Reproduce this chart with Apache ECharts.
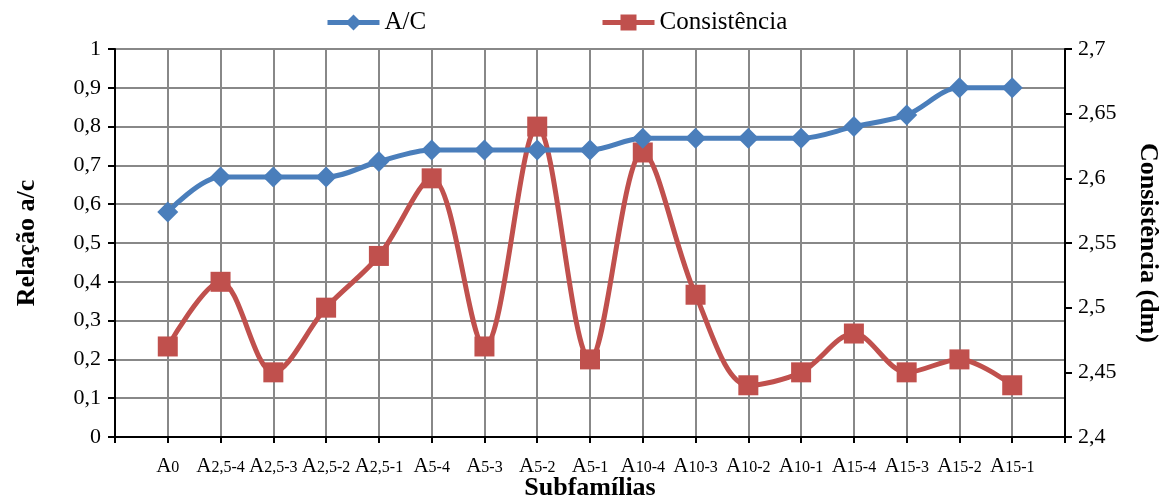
<!DOCTYPE html>
<html>
<head>
<meta charset="utf-8">
<script src="https://cdn.jsdelivr.net/npm/echarts@6/dist/echarts.min.js"></script>
<style>html,body{margin:0;padding:0;background:#fff}#c{width:1160px;height:499px}</style>
</head>
<body>
<div id="c"></div>
<script>
const categories = ['0','2,5-4','2,5-3','2,5-2','2,5-1','5-4','5-3','5-2','5-1','10-4','10-3','10-2','10-1','15-4','15-3','15-2','15-1'];
const acValues = [0.58,0.67,0.67,0.67,0.71,0.74,0.74,0.74,0.74,0.77,0.77,0.77,0.77,0.80,0.83,0.90,0.90];
const consValues = [2.47,2.52,2.45,2.50,2.54,2.60,2.47,2.64,2.46,2.62,2.51,2.44,2.45,2.48,2.45,2.46,2.44];
const leftTicks = [0,0.1,0.2,0.3,0.4,0.5,0.6,0.7,0.8,0.9,1];
const rightTicks = [2.4,2.45,2.5,2.55,2.6,2.65,2.7];

const FONT = '"Liberation Serif", "Times New Roman", serif';
const BLUE = '#4A7EBB';
const RED = '#C0504D';
const GRID = '#888888';
const fmtNum = v => String(+v.toFixed(3)).replace('.', ',');

const chart = echarts.init(document.getElementById('c'));
chart.setOption({
  animation: false,
  textStyle: { fontFamily: FONT, color: '#000' },
  grid: { left: 115, right: 95, top: 49, bottom: 62, outerBoundsMode: 'none', containLabel: false,
          show: true, borderColor: '#000', borderWidth: 2, backgroundColor: 'transparent' },
  legend: [
    { data: ['A/C'], left: 325, top: 10, padding: 0, itemWidth: 52, itemHeight: 20, itemGap: 0,
      lineStyle: { width: 5 }, textStyle: { fontFamily: FONT, fontSize: 25, color: '#000' } },
    { data: ['Consistência'], left: 600, top: 10, padding: 0, itemWidth: 52, itemHeight: 20, itemGap: 0,
      lineStyle: { width: 5 }, textStyle: { fontFamily: FONT, fontSize: 25, color: '#000' } }
  ],
  xAxis: {
    type: 'value', min: 0, max: categories.length + 1, interval: 1,
    name: 'Subfamílias', nameLocation: 'middle', nameGap: 38, nameMoveOverlap: false,
    nameTextStyle: { fontFamily: FONT, fontSize: 26, fontWeight: 'bold', color: '#000' },
    axisLine: { show: true, lineStyle: { color: '#000', width: 2 } },
    axisTick: { show: true, length: 6, lineStyle: { color: '#000', width: 2 } },
    splitLine: { show: true, lineStyle: { color: GRID, width: 2 } },
    axisLabel: {
      margin: 19,
      formatter: v => (v >= 1 && v <= categories.length) ? '{a|A}{b|' + categories[v - 1] + '}' : '',
      rich: {
        a: { fontFamily: FONT, fontSize: 21, color: '#000' },
        b: { fontFamily: FONT, fontSize: 16, color: '#000', padding: [3, 0, 0, 0] }
      }
    }
  },
  yAxis: [
    {
      type: 'value', min: 0, max: 1, interval: 0.1, position: 'left',
      name: 'Relação a/c', nameLocation: 'middle', nameGap: 75,
      nameTextStyle: { fontFamily: FONT, fontSize: 26, fontWeight: 'bold', color: '#000' },
      axisLine: { show: true, lineStyle: { color: '#000', width: 2 } },
      axisTick: { show: true, length: 7, lineStyle: { color: '#000', width: 2 } },
      splitLine: { show: true, lineStyle: { color: GRID, width: 2 } },
      axisLabel: { margin: 14, fontFamily: FONT, fontSize: 22, color: '#000', formatter: v => leftTicks.indexOf(+v.toFixed(2)) >= 0 ? fmtNum(v) : '' }
    },
    {
      type: 'value', min: 2.4, max: 2.7, interval: 0.05, position: 'right',
      name: 'Consistência (dm)', nameLocation: 'middle', nameGap: 70, nameRotate: -90,
      nameTextStyle: { fontFamily: FONT, fontSize: 26, fontWeight: 'bold', color: '#000' },
      axisLine: { show: true, lineStyle: { color: '#000', width: 2 } },
      axisTick: { show: true, length: 7, lineStyle: { color: '#000', width: 2 } },
      splitLine: { show: false },
      axisLabel: { margin: 13, fontFamily: FONT, fontSize: 22, color: '#000', formatter: v => rightTicks.indexOf(+v.toFixed(2)) >= 0 ? fmtNum(v) : '' }
    }
  ],
  series: [
    {
      name: 'A/C', type: 'line', yAxisIndex: 0, smooth: 0.33,
      data: acValues.map((v, i) => [i + 1, v]),
      symbol: 'diamond', symbolSize: 21,
      lineStyle: { color: BLUE, width: 5 },
      itemStyle: { color: BLUE },
      z: 3
    },
    {
      name: 'Consistência', type: 'line', yAxisIndex: 1, smooth: 0.33,
      data: consValues.map((v, i) => [i + 1, v]),
      symbol: 'rect', symbolSize: 20,
      lineStyle: { color: RED, width: 5 },
      itemStyle: { color: RED },
      z: 2
    }
  ]
});
</script>
</body>
</html>
